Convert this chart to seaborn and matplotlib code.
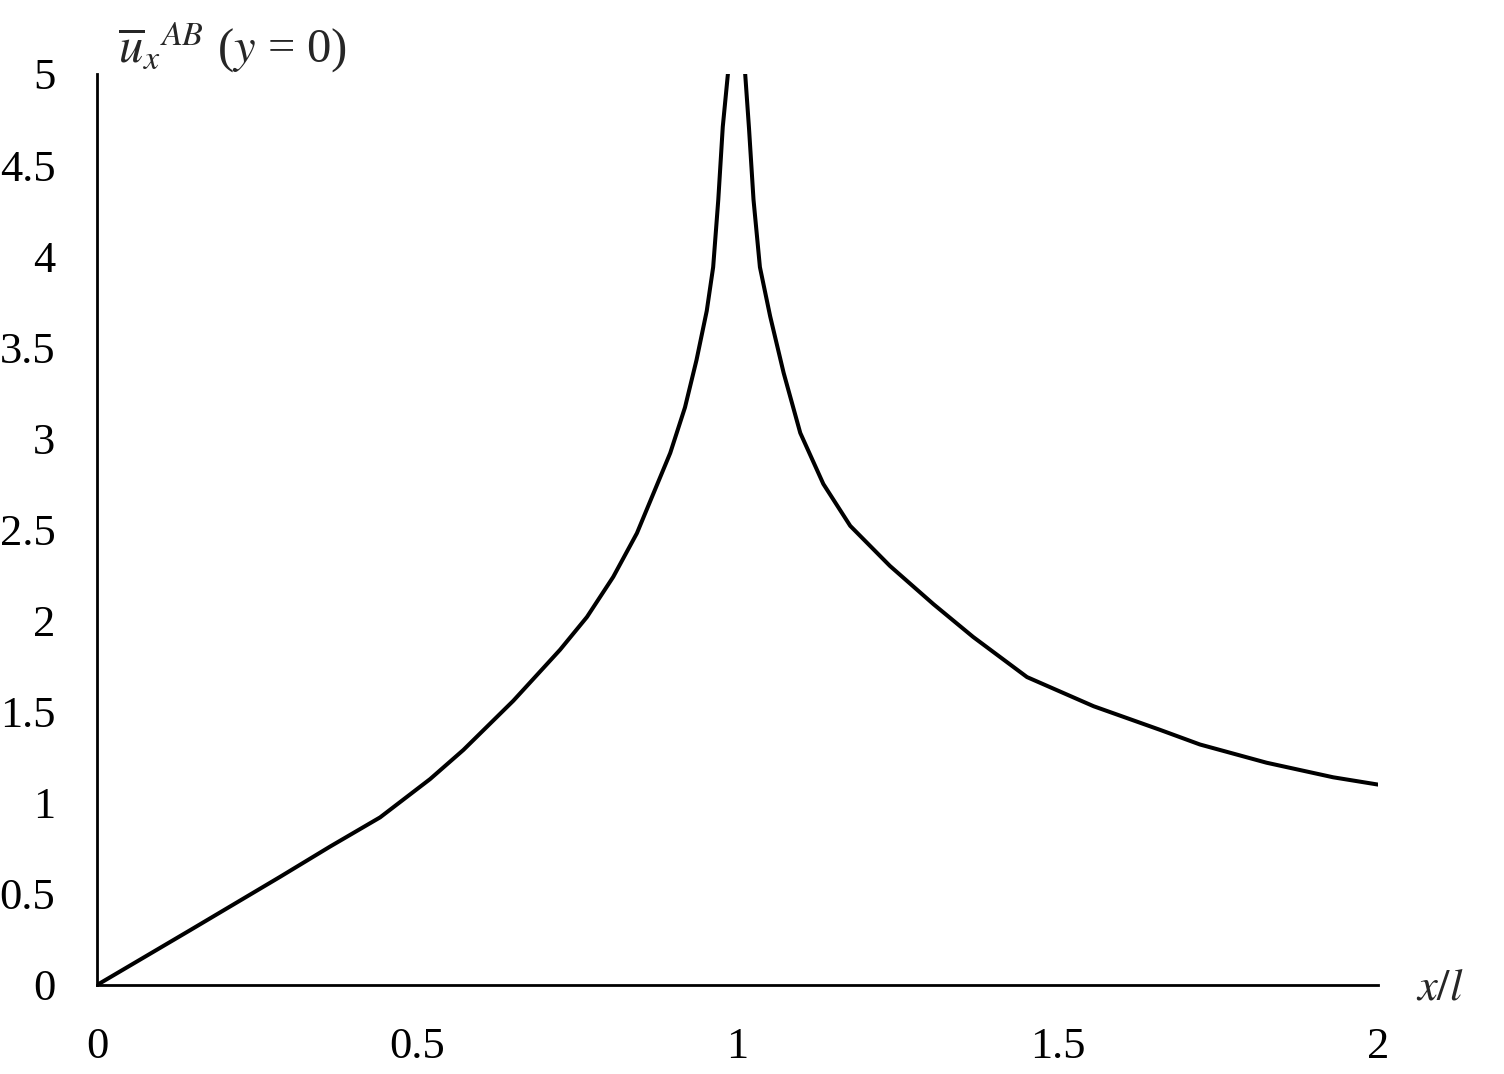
import pandas as pd
import matplotlib
matplotlib.use('Agg')
import matplotlib.pyplot as plt
import seaborn as sns

# left branch (x/l < 1)
x_left = [0.0, 0.145, 0.286, 0.364, 0.442, 0.520, 0.572, 0.650, 0.723, 0.765, 0.806,
          0.843, 0.869, 0.895, 0.918, 0.936, 0.952, 0.962, 0.970, 0.977, 0.985]
u_left = [0.0, 0.30, 0.594, 0.76, 0.92, 1.13, 1.29, 1.56, 1.84, 2.02, 2.24,
          2.48, 2.70, 2.92, 3.17, 3.43, 3.70, 3.94, 4.31, 4.71, 5.0]

# right branch (x/l > 1)
x_right = [1.012, 1.018, 1.025, 1.035, 1.051, 1.072, 1.098, 1.134, 1.176, 1.238, 1.306,
           1.368, 1.452, 1.556, 1.660, 1.722, 1.826, 1.93, 2.0]
u_right = [5.0, 4.7, 4.31, 3.94, 3.67, 3.36, 3.03, 2.75, 2.52, 2.30, 2.09,
           1.91, 1.69, 1.53, 1.40, 1.32, 1.22, 1.14, 1.10]

x_ticks = [0, 0.5, 1, 1.5, 2]
x_tick_labels = ['0', '0.5', '1', '1.5', '2']
y_ticks = [0, 0.5, 1, 1.5, 2, 2.5, 3, 3.5, 4, 4.5, 5]
y_tick_labels = ['0', '0.5', '1', '1.5', '2', '2.5', '3', '3.5', '4', '4.5', '5']

sns.set_style('white')
plt.rcParams['font.family'] = ['Liberation Serif', 'DejaVu Serif']
plt.rcParams['mathtext.fontset'] = 'stix'

df_left = pd.DataFrame({'x': x_left, 'u': u_left})
df_right = pd.DataFrame({'x': x_right, 'u': u_right})

fig = plt.figure(figsize=(15.04, 10.74), dpi=100)
ax = fig.add_axes([97 / 1504, 1 - 985 / 1074, (1378 - 97) / 1504, (985 - 74) / 1074])

sns.lineplot(data=df_left, x='x', y='u', color='black', linewidth=2.9, sort=False, ax=ax)
sns.lineplot(data=df_right, x='x', y='u', color='black', linewidth=2.9, sort=False, ax=ax)

ax.set_xlim(0, 2)
ax.set_ylim(0, 5)
ax.set_xticks(x_ticks)
ax.set_xticklabels(x_tick_labels)
ax.set_yticks(y_ticks)
ax.set_yticklabels(y_tick_labels)
ax.tick_params(axis='both', length=0, labelsize=32, colors='black')
ax.tick_params(axis='x', pad=30)
ax.tick_params(axis='y', pad=30)
ax.set_xlabel('')
ax.set_ylabel('')

for side in ['top', 'right']:
    ax.spines[side].set_visible(False)
for side in ['left', 'bottom']:
    ax.spines[side].set_color('black')
    ax.spines[side].set_linewidth(2)

fig.text(118 / 1504, 1 - 48 / 1074, r'$\overline{u}_{x}{}^{AB}$ ($y$ = 0)',
         fontsize=35, ha='left', va='center')
fig.text(1416 / 1504, 1 - 988 / 1074, r'$x/l$', fontsize=32, ha='left', va='center')

fig.savefig('out.png', dpi=100, facecolor='white')
